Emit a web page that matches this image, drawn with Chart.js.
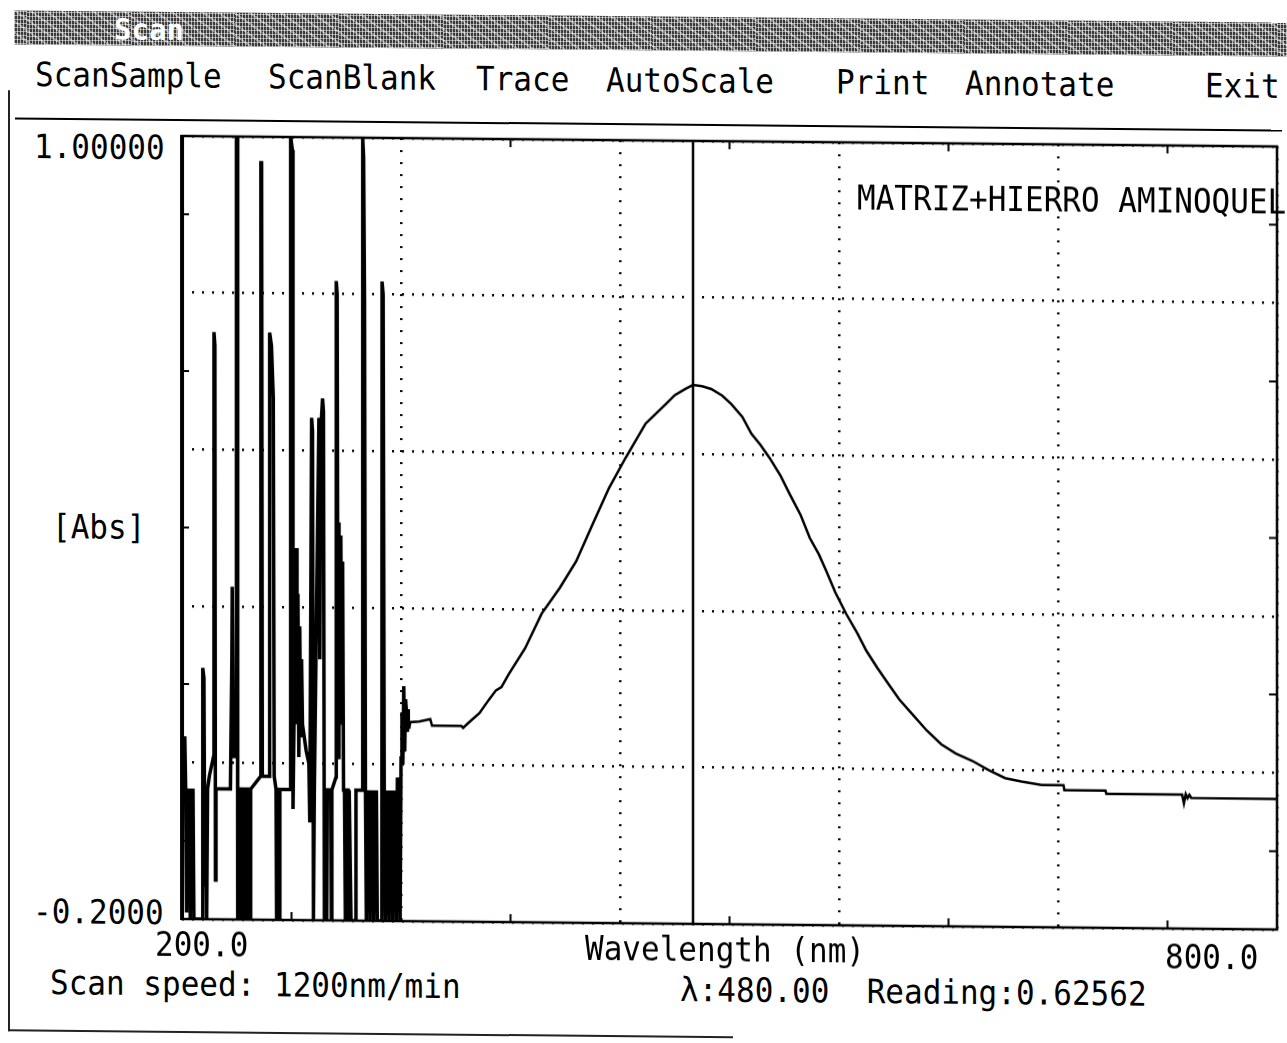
<!DOCTYPE html>
<html>
<head>
<meta charset="utf-8">
<script src="https://cdn.jsdelivr.net/npm/chart.js@4.4.0/dist/chart.umd.min.js"></script>
<style>
    html, body { margin: 0; padding: 0; background: #fff; }
    body { width: 1287px; height: 1043px; overflow: hidden; position: relative; }
    /* the printout was scanned slightly sheared, so the whole sheet leans a little */
    #page { position: absolute; left: 0; top: 0; width: 1287px; height: 1043px;
            transform-origin: 183px 0; transform: skewY(0.55deg); }
    .t { position: absolute; font-family: 'DejaVu Sans Mono', monospace; font-size: 31px;
         line-height: 1; color: #000; white-space: pre; transform: translateY(-50%) scaleY(1.08); }
    #titlebar { position: absolute; left: 14px; top: 12px; width: 1273px; height: 34px;
                background-color: #3a3a3a;
                background-image:
                    repeating-linear-gradient(0deg, rgba(255,255,255,.5) 0 1px, transparent 1px 4px),
                    repeating-linear-gradient(90deg, rgba(255,255,255,.6) 0 1px, transparent 1px 3px),
                    repeating-linear-gradient(35deg, rgba(255,255,255,.4) 0 2px, transparent 2px 9px); }
    #titlebar span { position: absolute; left: 100px; top: 1px; font: bold 29px 'DejaVu Sans Mono', monospace; color: #fff; }
    #sep { position: absolute; left: 15px; top: 119px; width: 1267px; height: 2px; background: #000; }
    #frameL { position: absolute; left: 8px; top: 92px; width: 2px; height: 941px; background: #222; }
    #frameB { position: absolute; left: 8px; top: 1031px; width: 725px; height: 2px; background: #222; }
    #wrap { position: absolute; left: 172px; top: 126px; width: 1115px; height: 803px; }
</style>
</head>
<body>
<div id="page">
    <div id="titlebar"><span>Scan</span></div>
    <div id="sep"></div>
    <div id="frameL"></div>
    <div id="frameB"></div>
    <div id="wrap"><canvas id="cScan"></canvas></div>
</div>
<script>
// ===== UV-Vis scan printout =====

// menu bar
const MENU_ITEMS = ['ScanSample', 'ScanBlank', 'Trace', 'AutoScale', 'Print', 'Annotate', 'Exit'];
const MENU_LEFT = [35, 268, 476, 606, 836, 965, 1205];

// axis range and grid divisions
const X_GRID = [200, 320, 440, 560, 680, 800];
const Y_GRID = [-0.2, 0.04, 0.28, 0.52, 0.76, 1.0];
const Y_TICK_LABELS = ['1.00000', '-0.2000'];
const X_TICK_LABELS = ['200.0', '800.0'];

// cursor
const CURSOR_NM = 480;
const CURSOR_READING = '0.62562';

// lamp-change noise below ~324 nm
const NOISE_NM = [
    200, 201, 201.5, 202, 202.5, 203, 203.5, 204, 204.5, 205, 205.5, 206, 206.5, 211,
    211.2, 211.5, 212, 212.5, 213, 213.5, 214, 215, 217.3, 217.5, 218, 218.3, 218.6, 226.5,
    227.3, 227.5, 228, 228.5, 229.7, 229.8, 230.2, 230.5, 231, 232, 232.3, 232.6, 233.5, 233.8,
    234.1, 235, 235.3, 235.6, 237, 237.3, 237.6, 243.1, 243.2, 243.6, 244, 247.9, 248, 249,
    250, 250.5, 251.5, 251.8, 252.1, 253, 253.3, 253.6, 259.4, 259.5, 260.5, 260.8, 262.5, 263,
    263.5, 264, 264.5, 265, 265.5, 266, 267, 268, 269.5, 270, 271, 271.5, 272, 272.5,
    275, 275.5, 276, 277, 277.5, 278, 278.5, 279, 279.3, 279.6, 281.5, 281.8, 282.1, 284.4,
    284.5, 285, 285.5, 286, 286.5, 287, 287.5, 288, 288.5, 289, 289.5, 290, 291, 291.3,
    291.6, 292.6, 295, 295.3, 298.9, 299, 299.5, 300, 300.5, 301, 301.5, 302, 302.5, 303,
    303.5, 304, 304.5, 305, 305.5, 306, 306.5, 307, 309.5, 309.6, 310.2, 310.8, 311.5, 312,
    312.5, 313, 313.5, 314, 314.5, 315, 315.5, 316, 316.5, 317, 317.5, 318, 319, 319.5,
    320, 320.5, 321, 321.5, 322, 322.5, 323, 323.5, 324
];
const NOISE_ABS = [
    0.0, 0.0, 0.08, 0.0, -0.19, 0.0, -0.18, 0.0, -0.2, 0.0, -0.17, 0.0, -0.2, -0.2,
    0.0, 0.185, 0.17, -0.15, 0.0, -0.2, 0.0, 0.02, 0.05, 0.70, 0.68, -0.14, 0.0, 0.0,
    0.2, 0.31, 0.1, 0.05, 0.05, 1.0, 1.0, -0.2, 0.0, 0.0, -0.2, 0.0, 0.0, -0.2,
    0.0, 0.0, -0.2, 0.0, 0.0, -0.2, 0.0, 0.02, 0.96, 0.96, 0.02, 0.02, 0.70, 0.68,
    0.60, 0.02, 0.0, -0.2, 0.0, 0.0, -0.2, 0.0, 0.0, 1.0, 0.98, -0.03, 0.37, 0.1,
    0.30, 0.05, 0.25, 0.08, 0.20, 0.1, 0.08, 0.06, 0.04, -0.05, 0.57, 0.55, -0.2, 0.0,
    0.57, 0.2, 0.55, 0.60, 0.58, -0.2, 0.0, 0.0, -0.2, 0.0, 0.0, -0.2, 0.0, 0.02,
    0.78, 0.76, 0.05, 0.41, 0.1, 0.39, 0.15, 0.35, 0.0, 0.0, -0.2, 0.0, 0.0, -0.2,
    0.0, -0.2, -0.2, 0.0, 0.0, 1.0, 0.97, 0.75, 0.0, -0.2, 0.0, -0.18, 0.0, -0.2,
    0.0, -0.17, 0.0, -0.2, 0.0, -0.15, 0.0, -0.2, -0.2, 0.78, 0.76, 0.0, -0.2, 0.0,
    -0.19, 0.0, -0.2, 0.0, -0.18, 0.0, -0.2, 0.0, -0.17, 0.0, -0.2, 0.02, 0.0, -0.2,
    0.05, 0.12, 0.04, 0.16, 0.06, 0.14, 0.12, 0.09, 0.125
];

// absorption band of the sample
const BAND_NM = [
    324, 324.5, 325, 330, 336, 337, 353, 354, 357, 363, 368, 372, 375, 379, 388, 397,
    407, 416, 425, 434, 443, 454, 465, 470, 476, 480, 485, 490, 496, 501, 507, 512,
    517, 522, 528, 533, 539, 544, 549, 553, 558, 564, 570, 575, 581, 587, 593, 600,
    608, 616, 624, 633, 642, 651, 660, 671, 683, 683.5, 706, 706.5, 748, 749, 750, 751,
    752, 753, 800
];
const BAND_ABS = [
    0.125, 0.095, 0.105, 0.106, 0.11, 0.10, 0.10, 0.097, 0.105, 0.12, 0.14, 0.155, 0.16, 0.18, 0.22, 0.273,
    0.313, 0.354, 0.411, 0.467, 0.513, 0.566, 0.596, 0.610, 0.620, 0.626, 0.624, 0.620, 0.610, 0.597, 0.578, 0.552,
    0.535, 0.515, 0.488, 0.460, 0.428, 0.393, 0.368, 0.343, 0.310, 0.277, 0.248, 0.221, 0.195, 0.171, 0.147, 0.125,
    0.100, 0.079, 0.065, 0.054, 0.040, 0.028, 0.023, 0.018, 0.018, 0.0105, 0.0105, 0.0054, 0.0054, -0.008, 0.006, 0.0,
    0.005, 0.0004, 0.0
];

// ===== texts =====
const page = document.getElementById('page');
function txt(s, left, cy) {
    const el = document.createElement('div');
    el.className = 't';
    el.textContent = s;
    el.style.left = left + 'px';
    el.style.top = cy + 'px';
    page.appendChild(el);
}
MENU_ITEMS.forEach((m, i) => txt(m, MENU_LEFT[i], 76));
txt(Y_TICK_LABELS[0], 34, 148);
txt(Y_TICK_LABELS[1], 33, 913);
txt('[Abs]', 52, 528);
txt(X_TICK_LABELS[0], 155, 945);
txt('Wavelength (nm)', 585, 945);
txt(X_TICK_LABELS[1], 1165, 948);
txt('Scan speed: 1200nm/min', 50, 984);
txt('\u03bb:' + CURSOR_NM.toFixed(2) + '  Reading:' + CURSOR_READING, 680, 985);
txt('MATRIZ+HIERRO AMINOQUEL', 857, 192);

// ===== chart =====
const mid = a => a.slice(1).map((v, i) => (v + a[i]) / 2);
const pts = (xs, ys) => xs.map((v, i) => ({ x: v, y: ys[i] }));

const frameAndTicks = {
    id: 'frameAndTicks',
    afterDatasetsDraw(chart) {
        const { ctx, chartArea: a, scales: { x, y } } = chart;
        ctx.save();
        ctx.strokeStyle = '#000';
        ctx.lineWidth = 2;
        ctx.beginPath();
        mid(X_GRID).forEach(v => {
            const px = x.getPixelForValue(v);
            ctx.moveTo(px, a.bottom); ctx.lineTo(px, a.bottom - 8);
            ctx.moveTo(px, a.top); ctx.lineTo(px, a.top + 8);
        });
        mid(Y_GRID).forEach(v => {
            const py = y.getPixelForValue(v);
            ctx.moveTo(a.left, py); ctx.lineTo(a.left + 7, py);
            ctx.moveTo(a.right, py); ctx.lineTo(a.right - 8, py);
        });
        ctx.stroke();
        ctx.lineWidth = 2.5;
        ctx.strokeRect(a.left, a.top, a.right - a.left, a.bottom - a.top);
        ctx.lineWidth = 4;
        ctx.beginPath(); ctx.moveTo(a.left, a.top - 1); ctx.lineTo(a.left, a.bottom + 1); ctx.stroke();
        ctx.restore();
    }
};

new Chart(document.getElementById('cScan').getContext('2d'), {
    type: 'line',
    data: {
        datasets: [
            {
                data: pts(NOISE_NM, NOISE_ABS),
                borderColor: '#000', borderWidth: 3.5, pointRadius: 0, tension: 0
            },
            {
                data: pts(BAND_NM, BAND_ABS),
                borderColor: '#000', borderWidth: 2.5, pointRadius: 0, tension: 0
            },
            {
                data: [{ x: CURSOR_NM, y: Y_GRID[0] }, { x: CURSOR_NM, y: Y_GRID[Y_GRID.length - 1] }],
                borderColor: '#000', borderWidth: 2.5, pointRadius: 0
            }
        ]
    },
    options: {
        responsive: true, maintainAspectRatio: false, animation: false,
        layout: { padding: { left: 10, top: 10, right: 10, bottom: 10 } },
        scales: {
            x: {
                type: 'linear', min: 200, max: 800,
                afterBuildTicks: s => { s.ticks = X_GRID.map(v => ({ value: v })); },
                ticks: { display: false },
                grid: { color: '#000', lineWidth: 2.5, drawTicks: false },
                border: { display: false, dash: [2, 10] }
            },
            y: {
                min: -0.2, max: 1.0,
                afterBuildTicks: s => { s.ticks = Y_GRID.map(v => ({ value: v })); },
                ticks: { display: false },
                grid: { color: '#000', lineWidth: 2.5, drawTicks: false },
                border: { display: false, dash: [2, 8] }
            }
        },
        plugins: { legend: { display: false }, tooltip: { enabled: false } }
    },
    plugins: [frameAndTicks]
});
</script>
</body>
</html>
